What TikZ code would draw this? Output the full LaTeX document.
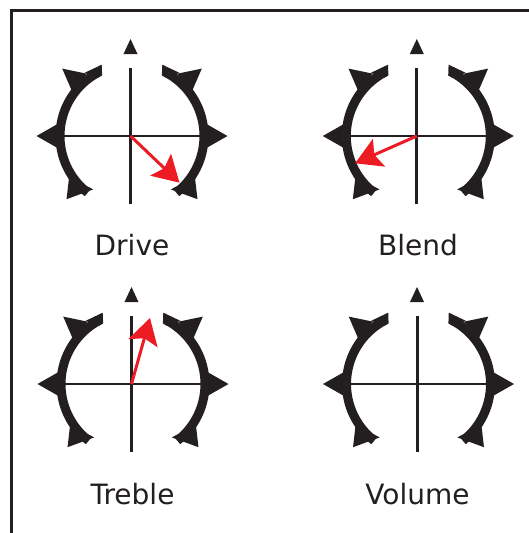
\documentclass[tikz,border=0pt]{standalone}
\usepackage{fontspec}
\setmainfont{DejaVu Sans}
\usetikzlibrary{arrows.meta,calc}
\definecolor{ink}{RGB}{35,31,32}
\definecolor{pointer}{RGB}{237,28,36}
\tikzset{
  knob/.pic={
    \draw[ink, line width=3] (0,68) -- (0,-68);
    \draw[ink, line width=2.8] (-68,0) -- (70,0);
    \fill[ink] (0,97) -- (-7,82) -- (7,82) -- cycle;
    \begin{scope}[shift={(1.5,0)}]
      \draw[ink, line width=9] (118:72) arc[start angle=118, end angle=232, radius=72];
      \draw[ink, line width=9] (-52:72) arc[start angle=-52, end angle=62, radius=72];
      % flared top ends
      \fill[ink] (127:79) -- (113:77.5) -- (116.3:67.5) -- (120:67.5) -- cycle;
      \fill[ink] (53:79) -- (67:77.5) -- (63.7:67.5) -- (60:67.5) -- cycle;
      % left markers
      \fill[ink] (136:97) -- (126:77) -- (143:75.5) -- cycle;
      \fill[ink] (180:95.5) -- (170:74) -- (190:74) -- cycle;
      \fill[ink] (224:91) -- (213:75) -- (234:66) -- cycle;
      % right markers
      \fill[ink] (44:97) -- (54:77) -- (37:75.5) -- cycle;
      \fill[ink] (0:95.5) -- (10:74) -- (-10:74) -- cycle;
      \fill[ink] (-44:91) -- (-33:75) -- (-54:66) -- cycle;
    \end{scope}
  },
  pointerarrow/.style={pointer, line width=3,
    -{Stealth[length=26pt,width=30pt,inset=5pt]}},
  knoblabel/.style={text=ink, font=\fontsize{28}{30}\selectfont, anchor=base}
}
\begin{document}
\begin{tikzpicture}[x=1pt,y=1pt]
\useasboundingbox (0,0) rectangle (529,-533);
\fill[white] (0,0) rectangle (529,-533);
% frame
\draw[ink, line width=2.6] (11.3,-533) -- (11.3,-10.3) -- (529,-10.3);

% knobs
\pic at (130.5,-136) {knob};
\pic at (416.8,-136) {knob};
\pic at (131.5,-384) {knob};
\pic at (417,-384) {knob};

% pointers
\coordinate (dc) at (130.5,-136);
\coordinate (dt) at ($(dc)+(49,-46.7)$);
\coordinate (bc) at (416.8,-136);
\coordinate (bt) at ($(bc)+(-61.7,-27.3)$);
\coordinate (tc) at (131.5,-384);
\coordinate (tt) at ($(tc)+(18.5,66)$);
\draw[pointerarrow] (dc) -- (dt);
\draw[pointerarrow] (bc) -- (bt);
\draw[pointerarrow] (tc) -- (tt);

% labels
\node[knoblabel] (drive) at (132,-255.5) {Drive};
\node[knoblabel] (blend) at (418,-255.5) {Blend};
\node[knoblabel] (treble) at (132.5,-504.5) {Treble};
\node[knoblabel] (volume) at (417.5,-504.5) {Volume};
\end{tikzpicture}
\end{document}
